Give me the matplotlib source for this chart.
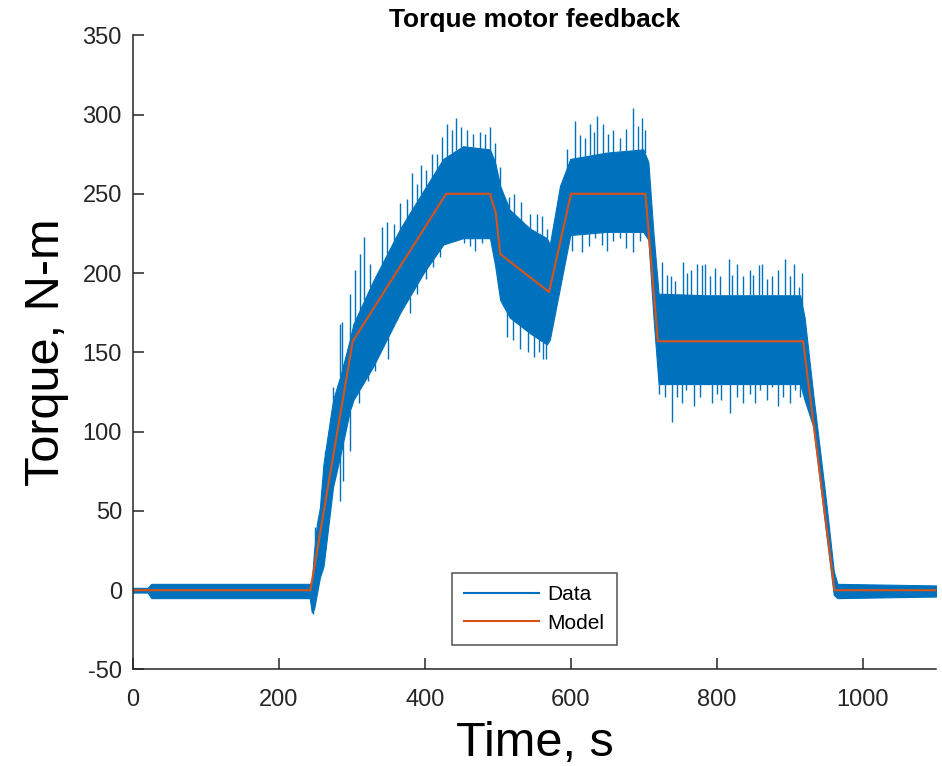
import numpy as np
import matplotlib
matplotlib.use('Agg')
import matplotlib.pyplot as plt
from matplotlib.lines import Line2D

plt.rcParams['font.family'] = ['Liberation Sans', 'DejaVu Sans']
plt.rcParams['axes.unicode_minus'] = False

env_t = [0, 20, 25, 242, 245, 248, 252, 256, 261, 274, 284, 297, 302, 329, 366, 398, 425,
         452, 489, 496, 503, 516, 544, 567, 571, 585, 599, 649, 699, 706, 713, 720, 786,
         914, 920, 932, 950, 960, 965, 1100]
env_hi = [1.5, 1.5, 4, 4, 5, 25, 42, 52, 80, 120, 135, 158, 168, 195, 228, 252, 272,
          280, 278, 270, 255, 240, 228, 222, 218, 255, 272, 276, 278, 270, 225, 187, 186,
          186, 172, 123, 54, 12, 4, 3]
env_lo = [-1.5, -1.5, -5, -5, -14, -12, -2, 8, 15, 65, 85, 113, 120, 141, 175, 200, 218,
          222, 222, 205, 183, 172, 162, 155, 158, 191, 224, 226, 226, 221, 172, 130, 130,
          130, 120, 103, 34, -3, -5, -4]

# spike tips sticking out of the core
up_spike_t = [249, 263, 274, 284, 286, 297, 304, 311, 317, 325, 341, 348, 357, 366, 375,
              382, 389, 395, 402, 409, 416, 423, 430, 437, 443, 450, 457, 466, 475, 482,
              489, 496, 503, 512, 515, 522, 532, 544, 553, 560, 567,
              594, 606, 612, 619, 626, 631, 636, 644, 651, 658, 667, 676, 685, 692, 697, 701,
              724, 731, 737, 743, 754, 759, 765, 772, 779, 784, 790, 797, 804, 816, 820,
              828, 836, 845, 850, 857, 861, 868, 875, 884, 893, 900, 905, 912, 917]
up_spike_v = [40, 88, 128, 168, 169, 187, 202, 212, 223, 206, 229, 232, 231, 244, 247,
              263, 256, 268, 265, 275, 275, 286, 294, 290, 298, 292, 290, 288, 289, 288,
              292, 282, 267, 243, 248, 250, 245, 237, 237, 236, 228,
              278, 296, 287, 285, 294, 289, 299, 294, 288, 290, 285, 291, 304, 293, 298, 290,
              207, 199, 198, 195, 207, 200, 202, 206, 205, 206, 198, 203, 198, 209, 199,
              206, 198, 202, 199, 205, 206, 196, 198, 202, 209, 198, 206, 191, 200]
lo_spike_t = [247, 284, 288, 297, 309, 322, 332, 350, 361, 379, 389, 402, 411, 421, 430,
              441, 453, 462, 469, 478, 512, 520, 530, 541, 549, 556, 562, 566,
              601, 615, 624, 633, 642, 649, 658, 667, 676, 685, 695, 701,
              720, 729, 738, 745, 752, 758, 768, 777, 788, 793, 800, 806, 818, 827, 836,
              845, 852, 859, 868, 875, 884, 891, 900, 907, 914]
lo_spike_v = [-15, 56, 69, 88, 118, 132, 138, 146, 172, 175, 187, 196, 204, 210, 219,
              223, 219, 217, 214, 219, 160, 158, 152, 150, 147, 150, 146, 146,
              214, 213, 217, 222, 218, 214, 220, 222, 216, 213, 220, 224,
              124, 122, 106, 122, 118, 126, 116, 122, 130, 118, 124, 120, 112, 122, 118,
              124, 118, 126, 120, 128, 116, 122, 118, 126, 122]

# model
model_t = [0, 243, 301, 429, 489, 497, 503, 570, 600, 702, 719, 918, 961, 1100]
model_v = [0, 0, 157, 250, 250, 238, 212, 188, 250, 250, 157, 157, 0, 0]

blue = '#0072BD'
orange = '#D95319'
grey = '#262626'

fig = plt.figure(figsize=(9.42, 7.66), dpi=100)
ax = fig.add_axes([0.1412, 0.126, 0.8524, 0.828])

ax.fill_between(env_t, env_lo, env_hi, color=blue, lw=0.8, edgecolor=blue)
ax.vlines(up_spike_t, np.interp(up_spike_t, env_t, env_hi), up_spike_v, color=blue, lw=1.0)
ax.vlines(lo_spike_t, lo_spike_v, np.interp(lo_spike_t, env_t, env_lo), color=blue, lw=1.0)
ax.plot(model_t, model_v, color=orange, lw=1.5)

ax.set_xlim(0, 1100)
ax.set_ylim(-50, 350)
ax.set_xticks([0, 200, 400, 600, 800, 1000])
ax.set_yticks(np.arange(-50, 351, 50))
for s in ['top', 'right']:
    ax.spines[s].set_visible(False)
for s in ['left', 'bottom']:
    ax.spines[s].set_color(grey)
    ax.spines[s].set_linewidth(1.1)
ax.tick_params(direction='in', length=8, width=1.1, colors=grey, labelsize=17)
ax.tick_params(axis='x', pad=14)
ax.tick_params(axis='y', pad=8)

ax.set_title('Torque motor feedback', fontsize=19, fontweight='bold', pad=6)
ax.set_xlabel('Time, s', fontsize=35, labelpad=7)
ax.set_ylabel('Torque, N-m', fontsize=35, labelpad=10)

handles = [Line2D([], [], color=blue, lw=1.5), Line2D([], [], color=orange, lw=1.5)]
leg = ax.legend(handles, ['Data', 'Model'], loc='lower left', bbox_to_anchor=(0.397, 0.0386),
                borderaxespad=0, fancybox=False, fontsize=15, handlelength=3.6,
                handletextpad=0.4, labelspacing=0.45, borderpad=0.6)
leg.get_frame().set_edgecolor(grey)
leg.get_frame().set_linewidth(1.1)

fig.savefig('out.png', dpi=100)
